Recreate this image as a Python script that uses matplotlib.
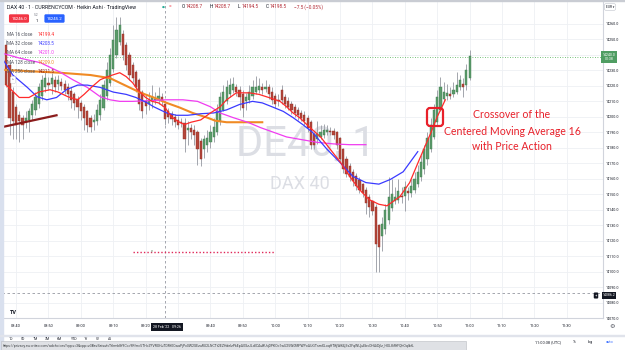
import numpy as np
import matplotlib
matplotlib.use("Agg")
import matplotlib.pyplot as plt
from matplotlib.patches import FancyBboxPatch, Rectangle
from matplotlib.transforms import IdentityTransform

plt.rcParams['font.family'] = ['Roboto', 'DejaVu Sans']

W, H = 625, 350

# 1 minute Heikin Ashi bars, first bar 08:37, last bar 11:00
first_bar = "08:37"
ha_open = [
    14246.5, 14233.5, 14216, 14206.5, 14201, 14199, 14197, 14198,
    14201, 14204.5, 14208.5, 14213.5, 14219, 14222, 14221.5, 14223.5,
    14221.5, 14222.5, 14221.5, 14219.5, 14217, 14214.5, 14211.5, 14209,
    14206.5, 14203.5, 14199, 14196.5, 14197, 14201, 14206, 14213.5,
    14222, 14231, 14240, 14248.5, 14253.5, 14246.5, 14240, 14233.5,
    14229, 14224, 14216, 14210, 14208.5, 14210, 14211, 14211,
    14212.5, 14208.5, 14203.5, 14202, 14200, 14198, 14196.5, 14196,
    14191.5, 14192.5, 14191.5, 14190, 14184.5, 14179, 14182, 14184,
    14187, 14190.5, 14197, 14204.5, 14210.5, 14214.5, 14217.5, 14219.5,
    14217.5, 14215, 14210.5, 14211, 14213.5, 14216, 14217.5, 14219,
    14218, 14219, 14216, 14213.5, 14211, 14217.5, 14213, 14210.5,
    14208.5, 14206.5, 14204.5, 14202.5, 14201.5, 14199.5, 14196.5, 14189,
    14185.5, 14187, 14188.5, 14190, 14191, 14191, 14190, 14186,
    14179, 14172.5, 14168, 14164.5, 14161.5, 14159, 14156.5, 14153,
    14148.5, 14145.5, 14142, 14130, 14123, 14127.5, 14133.5, 14141,
    14145.5, 14146.5, 14149, 14149, 14152, 14151, 14153, 14156.5,
    14161, 14166, 14172.5, 14179.5, 14187, 14196.5, 14204.5, 14211.5,
    14213.5, 14214.5, 14214.5, 14216, 14219, 14221.5, 14220.5, 14225,
]
ha_close = [
    14220.5, 14199.5, 14197, 14195, 14197, 14194.5, 14199.5, 14203.5,
    14208, 14212.5, 14219, 14224, 14225, 14220.5, 14225, 14219,
    14224, 14220, 14217.5, 14214.5, 14211, 14209, 14206.5, 14203.5,
    14199.5, 14194.5, 14193.5, 14198, 14204.5, 14211, 14220.5, 14230.5,
    14240, 14249.5, 14256, 14259.5, 14240, 14233.5, 14227, 14225,
    14219, 14208, 14203.5, 14207, 14211, 14213, 14211.5, 14213.5,
    14210.5, 14198.5, 14200, 14198.5, 14196.5, 14194.5, 14196, 14185.5,
    14193, 14190.5, 14188, 14179, 14172.5, 14185.5, 14186.5, 14190.5,
    14193.5, 14203.5, 14212.5, 14216, 14219, 14220.5, 14221.5, 14216,
    14212.5, 14206, 14212.5, 14216, 14219, 14219.5, 14220, 14217.5,
    14219.5, 14214.5, 14211, 14208.5, 14210.5, 14211, 14208.5, 14206.5,
    14204.5, 14202.5, 14201, 14199.5, 14197.5, 14193, 14182, 14181.5,
    14189, 14190.5, 14191.5, 14191.5, 14190.5, 14188, 14182, 14172.5,
    14166, 14163, 14161, 14158.5, 14155.5, 14153, 14150.5, 14144,
    14141.5, 14139, 14117.5, 14116, 14131, 14140, 14148, 14150,
    14148, 14152, 14148.5, 14154.5, 14150.5, 14155.5, 14159.5, 14164.5,
    14170.5, 14179, 14186.5, 14195, 14204.5, 14213, 14219, 14216,
    14215.5, 14213.5, 14217.5, 14220.5, 14223.5, 14219.5, 14230.5, 14239.5,
]
ha_high = [
    14249.5, 14235.5, 14219, 14208, 14203.5, 14201.5, 14203.5, 14206,
    14211, 14216, 14222, 14227, 14229, 14226, 14228.5, 14226.5,
    14227, 14225, 14224, 14222, 14219, 14216, 14213.5, 14211,
    14208.5, 14204.5, 14201, 14202, 14208, 14214.5, 14224, 14235.5,
    14244.5, 14259.5, 14264.5, 14264.5, 14256, 14248.5, 14242, 14235.5,
    14230.5, 14225, 14217.5, 14214.5, 14216, 14220.5, 14216, 14219,
    14215.5, 14208.5, 14206, 14204, 14202, 14200.5, 14199, 14199.5,
    14197, 14195.5, 14195, 14191.5, 14186.5, 14188.5, 14191.5, 14195,
    14199.5, 14208, 14216, 14220.5, 14224, 14225, 14226, 14221.5,
    14220, 14217.5, 14215.5, 14220.5, 14224, 14226.5, 14225, 14222,
    14224, 14221.5, 14219, 14215.5, 14214.5, 14220.5, 14215, 14212.5,
    14210.5, 14208.5, 14206.5, 14204.5, 14203.5, 14201, 14198, 14190.5,
    14197, 14195, 14195.5, 14194.5, 14193.5, 14193, 14191, 14187,
    14180, 14174.5, 14170, 14166.5, 14163.5, 14161, 14157.5, 14154.5,
    14150, 14146.5, 14143.5, 14131, 14135, 14143.5, 14161, 14159.5,
    14154.5, 14159.5, 14154.5, 14158.5, 14154.5, 14159.5, 14164.5, 14169,
    14175.5, 14182, 14190.5, 14199.5, 14208, 14217.5, 14226, 14222.5,
    14221.5, 14219, 14222.5, 14229, 14227, 14225, 14234, 14243.5,
]
ha_low = [
    14219, 14188.5, 14185.5, 14185.5, 14184, 14185.5, 14193, 14190.5,
    14198, 14201.5, 14206, 14211, 14216, 14217.5, 14214.5, 14216,
    14217.5, 14217.5, 14214.5, 14211, 14206, 14204.5, 14199.5, 14198,
    14191.5, 14190, 14190, 14191.5, 14194.5, 14198, 14204.5, 14211,
    14220, 14229, 14238, 14246.5, 14237, 14230.5, 14224, 14222.5,
    14216, 14204.5, 14199.5, 14202, 14204.5, 14206, 14208, 14208.5,
    14207, 14194.5, 14196, 14195, 14193.5, 14192, 14193.5, 14177.5,
    14182, 14185.5, 14182, 14169, 14168.5, 14173.5, 14177.5, 14180,
    14184, 14188.5, 14195, 14203.5, 14208.5, 14212.5, 14215.5, 14213.5,
    14204.5, 14200, 14204.5, 14209, 14211.5, 14214.5, 14215.5, 14215,
    14216, 14211.5, 14208.5, 14206, 14207, 14208.5, 14206, 14204.5,
    14202, 14200, 14198, 14197, 14195, 14190.5, 14179, 14179,
    14182.5, 14185.5, 14186.5, 14188, 14188.5, 14185.5, 14179.5, 14170.5,
    14163.5, 14161, 14158.5, 14155.5, 14153, 14150.5, 14148, 14137,
    14135, 14136.5, 14099.5, 14099.5, 14113, 14124, 14130.5, 14139,
    14143.5, 14144, 14144.5, 14139, 14146.5, 14148.5, 14150.5, 14154.5,
    14158.5, 14163, 14169, 14177, 14185.5, 14194.5, 14203.5, 14210,
    14211, 14211.5, 14213, 14214.5, 14217.5, 14212.5, 14217.5, 14224,
]

# centred moving averages as drawn on the chart (bar index, value)
ma16_bar = [0, 4, 7, 10, 13.5, 16, 19, 22, 24, 26.5,
            29, 32, 35, 37, 39, 40.5, 43, 45, 47, 49,
            51, 53, 55, 57, 60, 63, 66, 68, 71, 75,
            78, 81, 84.5, 86.5, 88.5, 90.5, 93.5, 97, 100, 103,
            106, 109, 112, 115, 117.5, 119.5, 121.5, 124.5, 127.5, 131,
            133, 135.5]
ma16_val = [14220.5, 14212.5, 14212.5, 14216, 14217.5, 14216, 14213, 14211, 14214.5, 14219.5,
            14224, 14226.5, 14228.5, 14226, 14222, 14217.5, 14212.5, 14210, 14209, 14206,
            14200, 14197, 14195, 14196.5, 14198, 14202.5, 14206.5, 14211, 14215.5, 14215.5,
            14214.5, 14212.5, 14210, 14206.5, 14202.5, 14199.5, 14193.5, 14187, 14179, 14171,
            14161.5, 14153, 14146.5, 14143.5, 14142.5, 14145.5, 14148.5, 14157.5, 14172.5, 14189.5,
            14200, 14211]
ma32_bar = [-1.5, 2, 6.5, 9.5, 12.5, 15.5, 18.5, 22, 25, 29,
            33, 37, 40, 43.5, 45.5, 47.5, 49.5, 52.5, 56, 60,
            64, 68, 72, 76, 79, 82, 85.5, 88.5, 91.5, 94.5,
            99, 103, 107, 111, 115, 118.5, 122.5, 127]
ma32_val = [14238.5, 14227, 14219, 14213, 14211, 14212.5, 14217.5, 14220.5, 14220.5, 14219,
            14216, 14214.5, 14212.5, 14209, 14206.5, 14204.5, 14202.5, 14201, 14201, 14202,
            14202.5, 14204.5, 14208, 14210, 14209, 14206.5, 14203.5, 14199.5, 14195, 14190,
            14179, 14170.5, 14161.5, 14157.5, 14156.5, 14159.5, 14164.5, 14177.5]
ma64_bar = [-2, 4, 10.5, 16.5, 20.5, 25, 29, 32, 35, 39,
            44.5, 49.5, 54.5, 59, 63, 66, 70, 74.5, 78.5, 82.5,
            86.5, 90.5, 96, 101, 106, 111]
ma64_val = [14241.5, 14238, 14235, 14229, 14224, 14219, 14213, 14211, 14210, 14210,
            14210.5, 14211, 14211, 14210, 14206.5, 14202.5, 14199.5, 14196.5, 14193, 14190,
            14187, 14185.5, 14183.5, 14182.5, 14182, 14182]
ma128_bar = [-2, 7, 16.5, 26, 32, 37.5, 41.5, 45.5, 49.5, 53.5,
             57.5, 62, 64.5, 68, 73, 79]
ma128_val = [14230.5, 14229.5, 14228.5, 14227, 14225, 14219.5, 14215.5, 14212.5, 14209, 14206,
             14202.5, 14199.5, 14197.5, 14196.5, 14196.5, 14196.5]
ma256_bar = [-1, 15.5]
ma256_val = [14193.5, 14201]

ma_names = ["MA 16 close", "MA 32 close", "MA 64 close", "MA 128 close", "MA 256 close"]
ma_last = ["14199.4", "14203.5", "14201.0", "14209.0", "14211.5"]

time_labels = ["08:40", "08:50", "09:00", "09:10", "09:20", "09:30", "09:40", "09:50",
               "10:00", "10:10", "10:20", "10:30", "10:40", "10:50", "11:00", "11:10",
               "11:20", "11:30"]
price_ticks = list(range(14070, 14261, 10))

last_price = 14240.0
cross_time = "09:26"
cross_price = 14086.2
ray_price = 14112.9
ray_start, ray_end = "09:16", "10:00"

GREEN, RED = "#5b9b6b", "#b5473b"
C16, C32, C64, C128, C256 = "#ff2a2a", "#3a3aff", "#f03cf0", "#f08a24", "#8b1c1c"
TXT = "#131722"


def minutes(t):
    h, m = t.split(":")
    return int(h) * 60 + int(m) - minutes_0


minutes_0 = 0
minutes_0 = minutes(first_bar)


def fx(x):
    return x / W


def fy(y):
    return 1 - y / H


fig = plt.figure(figsize=(W / 100, H / 100), dpi=100)
fig.patch.set_facecolor("white")
ax = fig.add_axes([fx(2), fy(318), fx(603) - fx(2), fy(2) - fy(318)])
ax.set_xlim(-1.33, 184.17)
ax.set_ylim(14070.7, 14274.2)

# grid
ax.set_axisbelow(True)
ax.grid(True, color="#eef0f4", lw=0.6)
for s in ["top", "left"]:
    ax.spines[s].set_visible(False)
for s in ["right", "bottom"]:
    ax.spines[s].set_color("#d1d4dc")
    ax.spines[s].set_linewidth(0.8)

# the date badge of the crosshair hides the 09:30 label, the price badge hides 14240.0
ax.set_xticks([minutes(t) for t in time_labels])
ax.set_xticklabels(["" if t == "09:30" else t for t in time_labels])
ax.yaxis.tick_right()
ax.set_yticks(price_ticks)
ax.set_yticklabels(["" if p == last_price else f"{p:.1f}" for p in price_ticks])
ax.tick_params(axis="x", length=0, pad=4.5, labelsize=2.8, labelcolor=TXT)
ax.tick_params(axis="y", length=0, pad=2, labelsize=2.6, labelcolor=TXT)

# watermark
ax.text(0.505, 0.55, "DE40, 1", transform=ax.transAxes, ha="center", va="center",
        fontsize=30, color="#dcdee4", zorder=1)
ax.text(0.495, 0.425, "DAX 40", transform=ax.transAxes, ha="center", va="center",
        fontsize=13, color="#dcdee4", zorder=1)

# candles
o = np.array(ha_open)
c = np.array(ha_close)
hi = np.array(ha_high)
lo = np.array(ha_low)
bars = np.arange(len(o))
up = c >= o
ax.vlines(bars, lo, hi, colors="#a3a6ad", lw=0.7, zorder=2)
ax.bar(bars, np.maximum(np.abs(c - o), 0.6), bottom=np.minimum(o, c), width=0.68,
       color=np.where(up, GREEN, RED), edgecolor=np.where(up, "#3f7d4f", "#8e2e25"),
       lw=0.3, zorder=3)

# moving averages
ax.plot(ma256_bar, ma256_val, color=C256, lw=1.6, zorder=4)
ax.plot(ma128_bar, ma128_val, color=C128, lw=1.5, zorder=4)
ax.plot(ma64_bar, ma64_val, color=C64, lw=0.9, zorder=4)
ax.plot(ma32_bar, ma32_val, color=C32, lw=0.9, zorder=4)
ax.plot(ma16_bar, ma16_val, color=C16, lw=0.9, zorder=5)

# price line, crosshair and the drawn ray
ax.axhline(last_price - 1.5, color="#4caf50", lw=0.6, ls=(0, (1, 2)), zorder=2)
ax.axhline(cross_price, color="#9598a1", lw=0.6, ls=(0, (3, 3)), zorder=2)
ax.axvline(minutes(cross_time), color="#9598a1", lw=0.6, ls=(0, (3, 3)), zorder=2)
ax.plot([minutes(ray_start), minutes(ray_end)], [ray_price, ray_price],
        color="#e0285a", lw=1.0, ls=(0, (1, 1.5)), zorder=4)
ax.text(minutes(ray_start) + 6, ray_price, "P", fontsize=2.5, color="#6a8f72",
        ha="center", va="center", zorder=5)

# annotation
red = "#e8202a"
box = FancyBboxPatch((427, H - 126), 16, 18, boxstyle="round,pad=0,rounding_size=3",
                     transform=IdentityTransform(), fill=False, ec=red, lw=1.6)
fig.add_artist(box)
for txt, yy in [("Crossover of the", 115), ("Centered Moving Average 16", 131),
                ("with Price Action", 147)]:
    fig.text(fx(512), fy(yy), txt, ha="center", va="center", fontsize=7.6, color=red,
             family=["Lato", "DejaVu Sans"])

# header
fig.add_artist(Rectangle((0, 0), fx(2.5), 1, transform=fig.transFigure,
                         color="#d9e0ee", zorder=6))
fig.add_artist(Rectangle((0, fy(1.2)), 1, 1 - fy(1.2), transform=fig.transFigure,
                         color="#c9ccd3", zorder=6))
fig.text(fx(7), fy(7), "DAX 40 · 1 · CURRENCYCOM · Heikin Ashi · TradingView",
         fontsize=3.8, color=TXT, va="center")
fig.text(fx(162), fy(7), "●", fontsize=2.4, color="#22ab94", va="center")
fig.text(fx(169), fy(7), "=", fontsize=3.5, color="#f23645", va="center")
ohlc = [("O", "14208.7"), ("H", "14208.7"), ("L", "14194.5"), ("C", "14198.5")]
xx = 182
for k, v in ohlc:
    fig.text(fx(xx), fy(7), k, fontsize=3.4, color=TXT, va="center")
    fig.text(fx(xx + 3.5), fy(7), v, fontsize=3.4, color="#b22833", va="center")
    xx += 28
fig.text(fx(xx), fy(7), "−7.5 (−0.05%)", fontsize=3.4, color="#b22833", va="center")

fig.text(fx(19), fy(18.5), "14246.0", fontsize=3.2, color="white", ha="center", va="center",
         bbox=dict(boxstyle="round,pad=0.5,rounding_size=0.3", fc="#f23645", ec="none"))
fig.text(fx(36.5), fy(15.5), "5.2", fontsize=2.4, color="#787b86", ha="center", va="center")
fig.text(fx(36.5), fy(21.5), "1", fontsize=3, color=TXT, ha="center", va="center")
fig.text(fx(54.5), fy(18.5), "14245.2", fontsize=3.2, color="white", ha="center", va="center",
         bbox=dict(boxstyle="round,pad=0.5,rounding_size=0.3", fc="#2962ff", ec="none"))

for k, (name, val, col) in enumerate(zip(ma_names, ma_last, [C16, C32, C64, C128, C256])):
    yy = 34 + k * 9.4
    fig.text(fx(7), fy(yy), name, fontsize=3.3, color="#50535e", va="center")
    fig.text(fx(38), fy(yy), val, fontsize=3.3, color=col, va="center")
fig.text(fx(13), fy(80), "^", fontsize=3, color="#50535e", ha="center", va="center",
         bbox=dict(boxstyle="round,pad=0.4", fc="white", ec="#d1d4dc", lw=0.4))

# price scale badges
fig.text(fx(610), fy(7), "EUR ▾", fontsize=2.3, color=TXT, ha="center", va="center",
         bbox=dict(boxstyle="round,pad=0.4", fc="white", ec="#c0c3cb", lw=0.4), zorder=7)
fig.text(fx(609), fy(57), "14240.0\n00:38", fontsize=2.5, color="white", ha="center",
         va="center", linespacing=1.2,
         bbox=dict(boxstyle="square,pad=0.35", fc="#4f9d62", ec="none"), zorder=7)
fig.text(fx(609), fy(295.5), "14086.2", fontsize=2.5, color="white", ha="center",
         va="center", bbox=dict(boxstyle="square,pad=0.3", fc=TXT, ec="none"), zorder=7)
fig.text(fx(596), fy(295.5), "+", fontsize=3, color="white", ha="center", va="center",
         bbox=dict(boxstyle="round,pad=0.25", fc=TXT, ec="none"), zorder=7)

# time scale extras
fig.text(fx(13), fy(313), "TV", fontsize=4, color=TXT, ha="center", va="center",
         weight="bold")
fig.text(fx(167), fy(327), "28 Feb '22   09:26", fontsize=2.6, color="white",
         ha="center", va="center",
         bbox=dict(boxstyle="square,pad=0.5", fc=TXT, ec="none"), zorder=7)
fig.text(fx(612), fy(327), "⚙", fontsize=4.5, color="#50535e", ha="center", va="center",
         family=["DejaVu Sans"])
fig.add_artist(Rectangle((0, fy(335.5)), 1, 0.8 / H, transform=fig.transFigure,
                         color="#e0e3eb", zorder=6))

# bottom bar
for lab, xx in zip(["1D", "5D", "1M", "3M", "6M", "YTD", "1Y", "5Y", "All"],
                   [11, 23, 35, 47, 59, 73, 86, 98, 110]):
    fig.text(fx(xx), fy(339), lab, fontsize=2.6, color=TXT, ha="center", va="center")
fig.text(fx(548), fy(342), "11:00:38 (UTC)", fontsize=2.8, color=TXT, ha="center", va="center")
fig.text(fx(574), fy(342), "%", fontsize=2.8, color=TXT, ha="center", va="center")
fig.text(fx(590), fy(342), "log", fontsize=2.8, color=TXT, ha="center", va="center")
fig.text(fx(610), fy(342), "auto", fontsize=2.8, color="#2962ff", ha="center", va="center")

fig.add_artist(Rectangle((fx(1), 0), fx(466) - fx(1), fy(340.5), transform=fig.transFigure,
                         fc="#dfe1e5", ec="#b9bcc2", lw=0.4, zorder=8))
url = ("https://privacy.eu.criteo.com/adchoices?cppv=3&cpp=z3BevSeisufvTtlrmk8f9Ccc9Rfrrc5THcZ"
       "FVRXHuTDRf0CwaPjPx0W2SEzuRU2LNCTt2EZHdeIzPkEpA0SzJLdlCAuBUqDPKOc1wU25W0MPWPoAUGTsmXL"
       "oqHTBjWB4j3x2FqWUjuEbvOHAiDjlz_HXL8iRfFQhOqlbfL")
fig.text(fx(3), fy(345.5), url, fontsize=2.5, color="#3c4043", va="center", zorder=9)

fig.savefig("out.png", dpi=100)
